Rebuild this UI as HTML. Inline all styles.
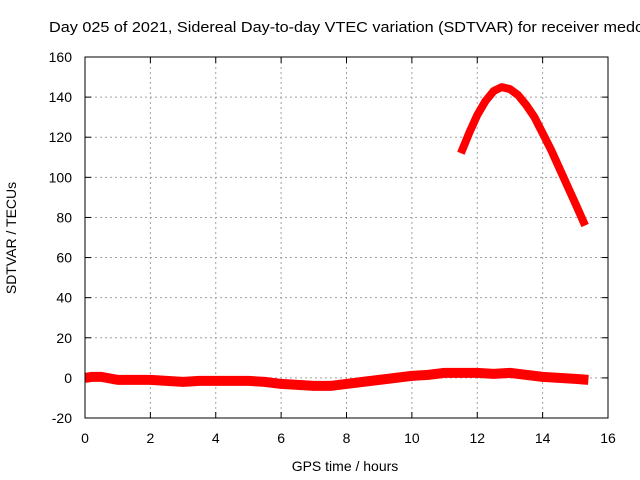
<!DOCTYPE html>
<html><head><meta charset="utf-8"><style>
body{margin:0;background:#fff;overflow:hidden;}
svg{display:block;font-family:"Liberation Sans",sans-serif;}
</style></head><body>
<svg id="chart" width="640" height="480">
<text x="49" y="32" font-size="15" textLength="595" lengthAdjust="spacingAndGlyphs" text-anchor="start">Day 025 of 2021, Sidereal Day-to-day VTEC variation (SDTVAR) for receiver medo</text>
<g id="grid"></g><g id="ticks"></g><g id="series"></g>
<rect x="85" y="57" width="523" height="361" fill="none" stroke="#000" stroke-width="1"/>
<text x="345" y="471" font-size="14" text-anchor="middle">GPS time / hours</text>
<text x="16" y="238" font-size="14" text-anchor="middle" transform="rotate(-90 16 238)">SDTVAR / TECUs</text>
</svg>
<script>
const xTicks=[0,2,4,6,8,10,12,14,16];
const yTicks=[-20,0,20,40,60,80,100,120,140,160];
const lowHours=[0,0.2,0.5,1,1.5,2,2.5,3,3.5,4,4.5,5,5.5,6,6.5,7,7.5,8,8.5,9,9.5,10,10.5,11,11.5,12,12.5,13,13.5,14,14.5,15,15.4];
const lowValues=[0,0.5,0.5,-1,-1,-1,-1.5,-2,-1.5,-1.5,-1.5,-1.5,-2,-3,-3.5,-4,-4,-3,-2,-1,0,1,1.5,2.5,2.5,2.5,2,2.5,1.5,0.5,0,-0.5,-1];
const highHours=[11.5,11.75,12,12.25,12.5,12.75,13,13.25,13.5,13.75,14,14.25,14.5,14.75,15,15.3];
const highValues=[112,122,131,138,143,145,144,141,136,130,122,114,105,96,87,76];
const NS='http://www.w3.org/2000/svg';
const X0=85,X1=608,Y0=418,Y1=57;
function sx(v){return X0+(v-0)/(16-0)*(X1-X0);}
function sy(v){return Y0-(v+20)/(180)*(Y0-Y1);}
const grid=document.getElementById('grid'),ticks=document.getElementById('ticks'),series=document.getElementById('series');
function mk(tag,attrs,parent){const e=document.createElementNS(NS,tag);for(const k in attrs)e.setAttribute(k,attrs[k]);parent.appendChild(e);return e;}
xTicks.forEach(t=>{
  const x=sx(t);
  if(t>0&&t<16){const g=mk('line',{x1:x,x2:x,y1:Y1,y2:Y0,stroke:'#a0a0a0','stroke-dasharray':'2,3'},grid);
  
  }
  mk('line',{x1:x,x2:x,y1:Y0,y2:Y0-6,stroke:'#000'},ticks);
  mk('line',{x1:x,x2:x,y1:Y1,y2:Y1+6,stroke:'#000'},ticks);
  const l=mk('text',{x:x,y:443,'font-size':14,'text-anchor':'middle'},ticks);l.textContent=t;
  
  
});
yTicks.forEach(t=>{
  const y=sy(t);
  if(t>-20&&t<160){const g=mk('line',{x1:X0,x2:X1,y1:y,y2:y,stroke:'#a0a0a0','stroke-dasharray':'2,3'},grid);
  
  }
  mk('line',{x1:X0,x2:X0+6,y1:y,y2:y,stroke:'#000'},ticks);
  mk('line',{x1:X1,x2:X1-6,y1:y,y2:y,stroke:'#000'},ticks);
  const l=mk('text',{x:72,y:y+5,'font-size':14,'text-anchor':'end'},ticks);l.textContent=t;
  
  
});
function line(xs,ys,name,w){
  const p=mk('polyline',{points:xs.map((h,i)=>sx(h)+','+sy(ys[i])).join(' '),fill:'none',stroke:'#f00','stroke-width':w,'stroke-linejoin':'round'},series);
  
  
}
line(lowHours,lowValues,'sdtvar-series-low',10);
line(highHours,highValues,'sdtvar-series-high',8);
</script>
</body></html>
